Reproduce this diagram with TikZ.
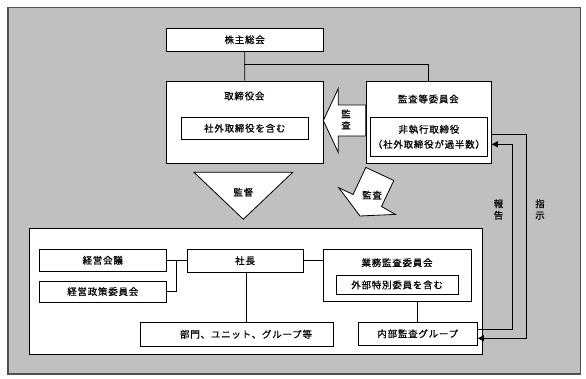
\documentclass[tikz,border=0pt]{standalone}
\usepackage{fontspec}
\newfontfamily\jp[LetterSpace=8,FakeBold=0.6]{Noto Sans CJK JP}
\usetikzlibrary{arrows.meta}
\definecolor{bggray}{HTML}{C0C0C0}
\definecolor{bgline}{HTML}{505050}
\tikzset{
  box/.style={draw=black, fill=white, line width=0.8pt, inner sep=0pt, anchor=north west, font=\jp\fontsize{9.5}{11}\selectfont},
  txt/.style={inner sep=0pt, font=\jp\fontsize{9.5}{11}\selectfont, align=center},
  conn/.style={draw=black, line width=0.8pt},
  arr/.style={conn, -{Triangle[length=6pt,width=6pt]}},
  bigarrow/.style={draw=black, fill=white, line width=0.8pt, line join=miter}
}
\begin{document}
\begin{tikzpicture}[x=1pt,y=-1pt]
\useasboundingbox (0,0) rectangle (586,379);
% background
\node[draw=bgline, fill=bggray, line width=1.2pt, inner sep=0pt, anchor=north west,
      minimum width=572.7pt, minimum height=366pt] (bg) at (7.3,7.3) {};
% top boxes
\node[box, minimum width=157.5pt, minimum height=23.3pt] (kabu) at (165.5,27.7) {株主総会};
\node[box, minimum width=157.3pt, minimum height=82pt] (tori) at (165.7,80.7) {};
\node[txt] (toritit) at (244.3,96) {取締役会};
\node[box, minimum width=126.7pt, minimum height=22.3pt] (torisub) at (181,116.7) {社外取締役を含む};
\node[box, minimum width=125.3pt, minimum height=82pt] (kansa) at (365.7,80.7) {};
\node[txt] (kansatit) at (428.3,99) {監査等委員会};
\node[box, minimum width=117pt, minimum height=38.4pt, align=center, font=\jp\fontsize{9.5}{15}\selectfont] (kansasub) at (370,117.3) {非執行取締役\\（社外取締役が過半数）};
% connectors top
\coordinate (j1) at (244.25,64.5);
\draw[conn] (kabu.south) -- (tori.north);
\draw[conn] (j1) -| (kansa.north);
% left block arrow
\draw[bigarrow] (323.3,120.5) -- (338.3,88.5) -- (338.3,105) -- (365.7,105) -- (365.7,136) -- (338.3,136) -- (338.3,152.5) -- cycle;
\node[txt, font=\jp\fontsize{9.5}{11.3}\selectfont] (arrtxt1) at (346,119.5) {監\\査};
% kantoku triangle
\draw[bigarrow] (194,172.3) -- (292.7,172.3) -- (243.3,219.3) -- cycle;
\node[txt] (kantoku) at (243.3,192.3) {監督};
% diagonal block arrow
\draw[bigarrow] (360,216) -- (395.4,214.4) -- (381.5,206.5) -- (393.8,180.5) -- (365.8,167.4) -- (353.1,194.5) -- (338.7,187.7) -- cycle;
\node[txt] (arrtxt2) at (372,195) {監査};
% lower white box
\node[box, minimum width=452.4pt, minimum height=125.7pt] (lower) at (29.3,228.3) {};
\node[box, minimum width=126.7pt, minimum height=21.7pt] (keiei) at (39,249) {経営会議};
\node[box, minimum width=126.7pt, minimum height=21pt] (seisaku) at (39,280.7) {経営政策委員会};
\node[box, minimum width=116pt, minimum height=22.7pt] (shacho) at (186.7,249) {社長};
\node[box, minimum width=147.4pt, minimum height=52pt] (gyomu) at (323.3,249) {};
\node[txt] (gyomutit) at (397,262.7) {業務監査委員会};
\node[box, minimum width=122pt, minimum height=19pt] (gyomusub) at (335.7,275) {外部特別委員を含む};
\node[box, minimum width=192.7pt, minimum height=23.4pt] (bumon) at (140,322.3) {};
\node[txt] (bumontxt) at (246,334.3) {部門、ユニット、グループ等};
\node[box, minimum width=119.3pt, minimum height=23.3pt] (naibu) at (357.7,321.7) {内部監査グループ};
% lower connectors
\coordinate (j2) at (176.7,259.85);
\draw[conn] (keiei.east) -- (shacho.west |- keiei.east);
\draw[conn] (seisaku.east) -| (j2);
\draw[conn] (shacho.east) -- (shacho.east -| gyomu.west);
\draw[conn] (246.5,271.7) -- (246.5,322.3);
\draw[conn] (naibu.north) -- (naibu.north |- gyomu.south);
% report / instruction lines
\coordinate (h1) at (512.7,329);
\coordinate (h2) at (512.7,144.3);
\coordinate (s1) at (526.7,134.3);
\coordinate (s2) at (526.7,338.3);
\draw[arr] (naibu.east |- h1) -- (h1) -- (h2) -- (h2 -| kansa.east);
\draw[arr] (kansa.east |- s1) -- (s1) -- (s2) -- (s2 -| naibu.east);
\node[txt, font=\jp\fontsize{9.5}{11.5}\selectfont] (hokoku) at (498.5,209.5) {報\\告};
\node[txt, font=\jp\fontsize{9.5}{11.5}\selectfont] (shiji) at (540,209.5) {指\\示};
\end{tikzpicture}
\end{document}
